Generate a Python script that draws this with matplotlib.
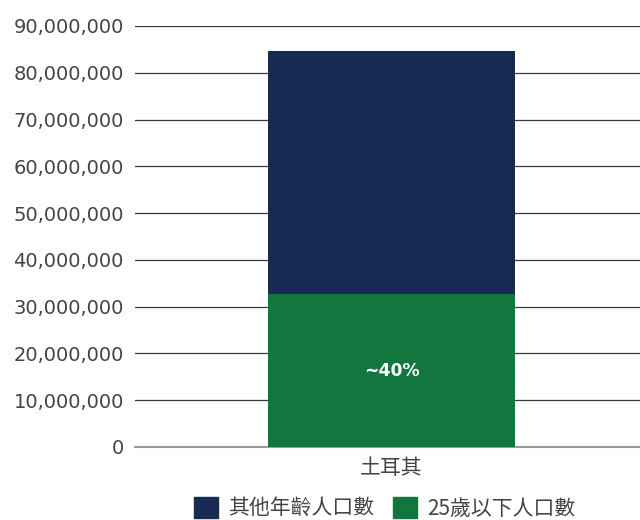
import matplotlib
matplotlib.use("Agg")
import matplotlib.pyplot as plt
from matplotlib.ticker import FuncFormatter
from matplotlib.patches import Patch

plt.rcParams['font.family'] = ['DejaVu Sans', 'Noto Sans CJK TC']

categories = ['土耳其']
under25 = [32700000]
others = [52000000]
series_names = ['其他年齡人口數', '25歲以下人口數']
label_text = '~40%'
yticks = list(range(0, 90000001, 10000000))

navy = '#182a52'
green = '#12763e'

fig = plt.figure(figsize=(6.4, 5.2), dpi=100)
ax = fig.add_axes([0.211, 0.1404, 0.789, 0.8096])

ax.bar(categories, under25, width=0.49, color=green, zorder=3)
ax.bar(categories, others, bottom=under25, width=0.49, color=navy, zorder=3)
ax.text(0, under25[0] / 2, label_text, ha='center', va='center', color='white',
        fontsize=12.3, fontweight='bold', zorder=4)

ax.set_xlim(-0.508, 0.492)
ax.set_ylim(0, 90000000)
ax.set_yticks(yticks)
ax.yaxis.set_major_formatter(FuncFormatter(lambda v, p: f'{int(v):,}'))
ax.grid(axis='y', color='#3a3a3a', linewidth=0.9, zorder=0)
for s in ['left', 'right', 'top']:
    ax.spines[s].set_visible(False)
ax.spines['bottom'].set_color('#9a9a9a')
ax.spines['bottom'].set_linewidth(1.5)
ax.tick_params(axis='y', length=0, pad=8, labelsize=14, labelcolor='#444444')
ax.tick_params(axis='x', length=0, pad=7, labelsize=15, labelcolor='#444444')
for t in ax.get_xticklabels():
    t.set_family(['Noto Sans CJK TC', 'DejaVu Sans'])

handles = [Patch(color=navy), Patch(color=green)]
leg = fig.legend(handles, series_names, loc='lower center', bbox_to_anchor=(0.601, -0.035),
                 ncol=2, frameon=False, handlelength=1.15, handleheight=1.15,
                 columnspacing=0.9, handletextpad=0.5,
                 prop={'family': ['Noto Sans CJK TC', 'DejaVu Sans'], 'size': 15})
for t in leg.get_texts():
    t.set_color('#444444')

fig.savefig('out.png', dpi=100)
